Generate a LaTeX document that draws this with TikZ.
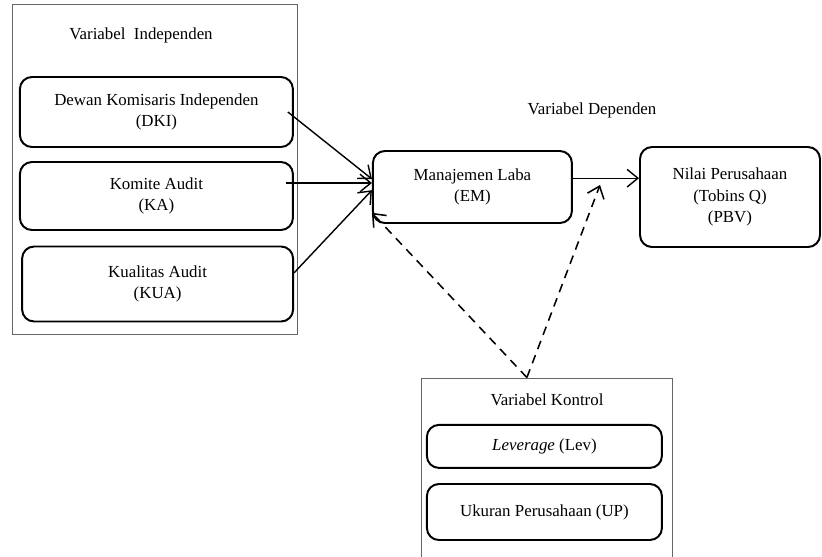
\documentclass[tikz,border=0pt]{standalone}
\usepackage{fontspec}
\setmainfont{Liberation Serif}
\usetikzlibrary{positioning,arrows.meta}

\tikzstyle{varbox} = [rectangle, rounded corners=0.3cm, line width=1.4pt, draw=black, align=center, inner sep=2pt]
\tikzstyle{group} = [rectangle, draw=black!60, line width=0.7pt, inner sep=0pt]
\tikzstyle{arrow} = [line width=1pt,-{Straight Barb[length=2.7mm,width=4.4mm]}]
\tikzstyle{dasharrow} = [arrow,line width=1.1pt,dash pattern=on 2.2mm off 1.6mm]

\begin{document}
\begin{tikzpicture}[font=\fontsize{12}{15}\selectfont]
\clip (0,0) rectangle (20.55,-13.9);

% independen
\node (indepbox) [group, minimum width=7.125cm, minimum height=8.25cm] at (3.8625,-4.225) {};
\node (indep) at (3.525,-0.875) {Variabel\ \ Independen};
\node (dki) [varbox, minimum width=6.825cm, minimum height=1.75cm] at (3.91,-2.8) {Dewan Komisaris Independen\\(DKI)};
\node (ka) [varbox, minimum width=6.825cm, minimum height=1.7cm, below of=dki, node distance=2.1cm] {Komite Audit\\(KA)};
\node (kua) [varbox, minimum width=6.775cm, minimum height=1.875cm, below of=ka, node distance=2.2cm, xshift=0.03cm] {Kualitas Audit\\(KUA)};

% dependen
\node (dep) at (14.8,-2.75) {Variabel Dependen};
\node (em) [varbox, minimum width=4.975cm, minimum height=1.8cm] at (11.81,-4.675) {Manajemen Laba\\(EM)};
\node (pbv) [varbox, minimum width=4.5cm, minimum height=2.5cm] at (18.25,-4.925) {Nilai Perusahaan\\(Tobins Q)\\(PBV)};

% kontrol
\node (ctlbox) [group, minimum width=6.275cm, minimum height=5cm] at (13.6625,-11.95) {};
\node (ctl) at (13.675,-10.0) {Variabel Kontrol};
\node (lev) [varbox, minimum width=5.875cm, minimum height=1.075cm] at (13.61,-11.16) {\textit{Leverage} (Lev)};
\node (up) [varbox, minimum width=5.875cm, minimum height=1.4cm, below of=lev, node distance=1.64cm] {Ukuran Perusahaan (UP)};

%arrows
\draw [arrow] ([xshift=-0.15cm]dki.east) -- ([yshift=0.2cm]em.west);
\draw [arrow] ([xshift=-0.2cm,yshift=0.1cm]ka.east |- em.west) -- ([yshift=0.1cm]em.west);
\draw [arrow] ([yshift=0.28cm]kua.east) -- ([yshift=-0.08cm]em.west);
\draw [arrow] ([yshift=0.22cm]em.east) -- ([yshift=0.22cm]em.east -| pbv.west);

\coordinate (meet) at ([xshift=-0.49cm]ctlbox.north);
\coordinate (mid) at (15.0,-4.625);
\draw [dasharrow] (meet) -- ([yshift=0.28cm]em.south west);
\draw [dasharrow] (meet) -- (mid);

\end{tikzpicture}
\end{document}
